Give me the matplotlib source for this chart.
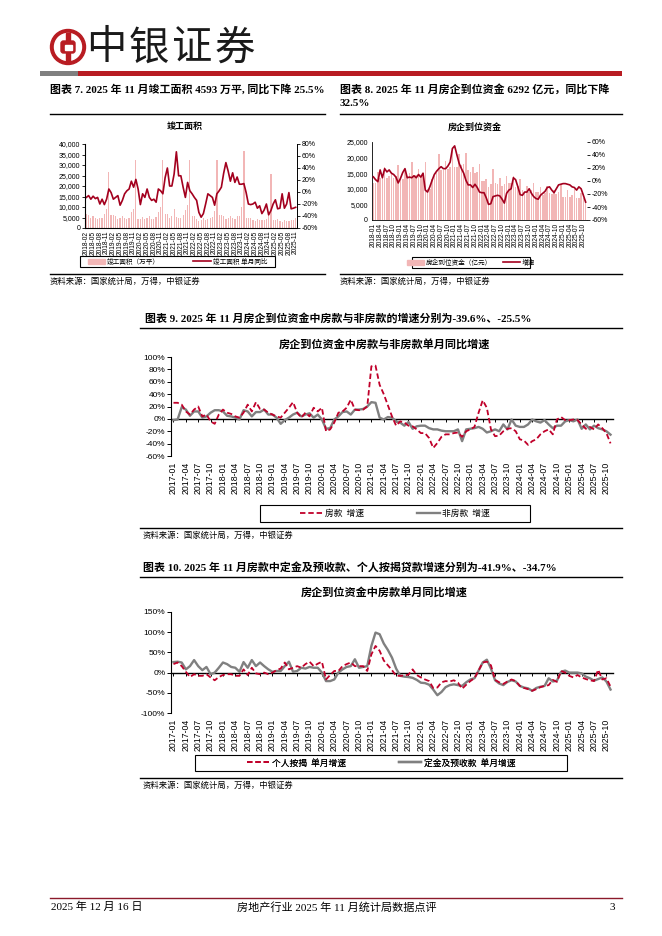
import numpy as np
import pandas as pd
import matplotlib
matplotlib.use('Agg')
import matplotlib.pyplot as plt
from matplotlib.patches import Circle, Rectangle, FancyBboxPatch, Patch
from matplotlib.lines import Line2D
from matplotlib.ticker import FuncFormatter

W, H = 662, 936
plt.rcParams['font.family'] = ['Liberation Sans', 'Noto Sans CJK SC']
SERIF = ['Liberation Serif', 'Noto Sans CJK SC']
CJK = ['Noto Sans CJK SC', 'DejaVu Sans']

# ---------------- data ----------------
# 图表7 竣工面积（万平）与单月同比，2018-02 ~ 2025-11
months7 = pd.date_range('2018-02', periods=94, freq='MS').strftime('%Y-%m')
area7 = [6500, 6000, 5000, 5800, 4800, 4300, 4800, 5000, 6500, 9000, 26700,
         6200, 6200, 5800, 4500, 4600, 5600, 4700, 4400, 5000, 7500, 9100, 32200,
         4300, 4300, 5200, 4200, 4800, 5500, 4500, 4500, 5200, 7800, 9800, 32200,
         6700, 6700, 5000, 5500, 9100, 5200, 5000, 4800, 6000, 8500, 11100, 32600,
         5800, 5800, 4500, 3500, 3800, 4800, 4000, 4200, 5000, 5200, 8300, 32200,
         6200, 6200, 5800, 4500, 4600, 5600, 4700, 4500, 5500, 5600, 10100, 36900,
         5000, 5000, 4600, 3700, 3500, 4400, 3800, 3600, 4000, 4200, 6000, 25600,
         3800, 3800, 4200, 3100, 3000, 4000, 3200, 3100, 3700, 3900, 4593]
yoy7 = [-9, -6, -12, -7, -11, -9, -20, -12, -21, -12, 5,
        -1, -12, -9, -6, -22, -14, -3, 2, 5, 18, 8, 21,
        5, -21, -3, -9, 5, -9, -14, -12, -17, 5, 2, -3,
        24, 40, 10, 10, 30, 67, 27, 27, 8, -9, 16, 2,
        -3, -9, -14, -34, -42, -36, -20, -3, -6, -9, -22, -3,
        2, 8, 31, 49, 35, 18, 32, 16, 25, 13, 13, 14,
        -1, -20, -21, -20, -17, -27, -23, -36, -30, -20, -38, -31,
        -20, -13, -28, -27, -3, -27, -20, -1, -28, -27, -25.5]

# 图表8 房企到位资金（亿元）与增速，2018-01 ~ 2025-11
months8 = pd.date_range('2018-01', periods=95, freq='MS').strftime('%Y-%m')
fund8 = [12000, 12000, 15500, 13500, 14000, 17000, 13500, 14000, 15500, 13500, 14000, 17500,
         13000, 13000, 16000, 14000, 15000, 18500, 14500, 14500, 16500, 14000, 15000, 18500,
         10000, 10000, 13000, 14000, 15000, 21000, 16000, 16000, 19000, 16500, 17000, 22500,
         17000, 17000, 21000, 17500, 18000, 21500, 16000, 15500, 17000, 15000, 15500, 18000,
         12500, 12500, 13000, 10500, 11500, 16500, 12000, 11500, 13500, 11000, 11500, 14000,
         12000, 12000, 14000, 10500, 11000, 13000, 9500, 9000, 11000, 9000, 9500, 12000,
         9000, 9000, 10500, 8000, 8500, 11000, 8500, 8200, 9500, 8300, 9000, 11500,
         7500, 7500, 9500, 7500, 8000, 10000, 7000, 7000, 8500, 7200, 6292]
yoy8 = [6.4, 2, -1, 17, 5, 19, 14, 17, 12, 10,
        6, -3, 4, 13, 19, 5, 6, 5, 8, 5,
        10, 6, 12, -14, -17, -9, 1, 10, 15, 19,
        22, 19, 19, 23, 29, 50, 54, 40, 27, 19,
        12, 1, -6, -6, -10, -5, -10, -17, -18, -18,
        -26, -36, -35, -24, -23, -22, -23, -28, -34, -19,
        -14, -12, 5, 2, -9, -21, -22, -17, -17, -12,
        -19, -24, -27, -28, -22, -19, -16, -10, -9, -14,
        -18, -12, -6, -5, -4, -4, -5, -6, -9, -10,
        -14, -9, -12, -22, -32.5]

# 图表9/10 月份 2017-01 ~ 2025-11
months9 = pd.date_range('2017-01', periods=107, freq='MS').strftime('%Y-%m')
house9 = [26, 26, 23, 12, 7, 15, 20, 4, 7, -4,
          -8, 7, 15, 10, 8, 4, 2, 10, 23, 12,
          27, 16, 15, 10, 7, 4, 2, 10, 18, 27,
          10, 2, 10, 4, 18, 12, 18, -20, -17, -6,
          10, 12, 18, 31, 15, 14, 15, 20, 85, 86,
          55, 40, 22, 4, -11, -4, -6, -11, -12, -17,
          -23, -23, -31, -47, -39, -29, -25, -25, -23, -22,
          -29, -20, -17, -13, 10, 30, 18, -17, -28, -27,
          -20, -16, -15, -20, -33, -35, -42, -36, -33, -25,
          -20, -17, -25, -1, 3, -2, -2, -1, -2, -9,
          -16, -13, -17, -9, -15, -23, -39.6]
nonhouse9 = [-2, -1, 19, 15, 5, 12, 12, 2, 4, 10,
             14, 14, 12, 5, 4, 2, -1, 14, 12, 4,
             11, 11, 15, 7, 7, 2, -8, -2, 2, 7,
             10, 4, 7, 9, 2, 7, -1, -16, -15, -1,
             4, 11, 12, 7, 15, 15, 16, 20, 27, 26,
             2, -1, 3, 2, -4, -6, -11, -5, -16, -12,
             -11, -11, -15, -17, -17, -19, -20, -20, -20, -17,
             -36, -17, -16, -15, -13, -16, -22, -20, -17, -20,
             -9, -17, -1, -11, -13, -13, -9, -1, -4, -6,
             -2, -9, -15, -11, -11, -4, -2, -4, -1, -16,
             -9, -17, -11, -15, -17, -20, -25.5]
mortgage10 = [21, 25, 16, 2, -11, -4, -8, -8, -4, -12,
              -19, -11, -6, -4, -4, -8, -8, 8, -6, 12,
              -2, -4, 0, -4, 0, 6, 10, 25, 8, 12,
              16, 12, 21, 27, 16, 22, 27, -17, -6, 4,
              4, 16, 21, 25, 16, 16, 16, 4, 45, 66,
              54, 30, 18, 6, -8, -8, -7, -5, 8, -6,
              -12, -17, -21, -38, -37, -24, -21, -22, -19, -25,
              -40, -30, -21, -14, 5, 25, 27, 18, -18, -24,
              -28, -22, -17, -21, -33, -38, -41, -45, -41, -36,
              -33, -31, -18, -23, 4, 0, -8, -12, -6, -12,
              -16, -19, -21, 7, -17, -14, -34.7]
deposit10 = [26, 27, 25, 8, 16, 31, 16, 6, 14, -4,
             0, 12, 25, 21, 14, 12, 2, 26, 12, 31,
             16, 25, 16, 8, 2, 4, 4, 16, 27, 2,
             4, 12, 10, 14, 12, 12, 0, -21, -21, -17,
             0, 8, 14, 16, 33, 12, 14, 16, 66, 99,
             95, 72, 56, 37, 10, -8, -10, -11, -13, -18,
             -25, -26, -30, -42, -56, -48, -36, -31, -29, -31,
             -33, -24, -17, -14, 5, 25, 32, 10, -19, -27,
             -31, -23, -19, -22, -33, -37, -39, -45, -38, -35,
             -33, -14, -22, -20, 2, 5, 0, 0, 0, -2,
             -10, -14, -20, -16, -12, -22, -41.9]

RED = '#C0002A'
DARKRED = '#A3001E'
PINK = '#F2B6B6'
GRAY = '#808080'
SRC = '资料来源：国家统计局，万得，中银证券'
TSIZE = 7.9


def box(x0, y0, x1, y1):
    return [x0 / W, 1 - y1 / H, (x1 - x0) / W, (y1 - y0) / H]


fig = plt.figure(figsize=(W / 100, H / 100), dpi=100)
bg = fig.add_axes([0, 0, 1, 1])
bg.set_xlim(0, W)
bg.set_ylim(H, 0)
bg.axis('off')

# header logo
cx, cy = 68, 47
bg.add_patch(Circle((cx, cy), 17.5, color='#B81C22'))
bg.add_patch(Circle((cx, cy), 13.5, color='white'))
bg.add_patch(Rectangle((cx - 2, cy - 14), 4, 28, color='#B81C22'))
bg.add_patch(FancyBboxPatch((cx - 7, cy - 6), 14, 12, boxstyle='round,pad=0,rounding_size=2.5', color='#B81C22'))
bg.add_patch(Rectangle((cx - 3.5, cy - 2.5), 7, 5, color='white'))
for i, ch in enumerate('中银证券'):
    bg.text(106 + i * 43, 48, ch, fontsize=29, family=CJK, ha='center', va='center', color='#1a1a1a')
bg.add_patch(Rectangle((40, 71), 38, 5, color='#808080', lw=0))
bg.add_patch(Rectangle((78, 71), 544, 5, color='#B81C22', lw=0))

# titles and rules
bg.text(50, 89, '图表 7. 2025 年 11 月竣工面积 4593 万平, 同比下降 25.5%', fontsize=TSIZE,
        family=SERIF, weight='bold', va='center')
bg.text(340, 89, '图表 8. 2025 年 11 月房企到位资金 6292 亿元，同比下降', fontsize=TSIZE,
        family=SERIF, weight='bold', va='center')
bg.text(340, 104, '32.5%', fontsize=TSIZE, family=SERIF, weight='bold', va='center')
bg.plot([50, 325], [113.5, 113.5], color='black', lw=1.0)
bg.plot([340, 622], [113.5, 113.5], color='black', lw=1.0)
bg.plot([50, 325], [273.5, 273.5], color='black', lw=1.0)
bg.plot([340, 622], [273.5, 273.5], color='black', lw=1.0)
bg.text(50, 281, SRC, fontsize=6, family=CJK, va='center', style='italic')
bg.text(340, 281, SRC, fontsize=6, family=CJK, va='center', style='italic')

bg.text(145, 318, '图表 9. 2025 年 11 月房企到位资金中房款与非房款的增速分别为-39.6%、-25.5%', fontsize=TSIZE,
        family=SERIF, weight='bold', va='center')
bg.plot([140, 622], [327.5, 327.5], color='black', lw=1.0)
bg.plot([140, 622], [527.5, 527.5], color='black', lw=1.0)
bg.text(143, 535, SRC, fontsize=6, family=CJK, va='center', style='italic')

bg.text(143, 568, '图表 10. 2025 年 11 月房款中定金及预收款、个人按揭贷款增速分别为-41.9%、-34.7%', fontsize=TSIZE,
        family=SERIF, weight='bold', va='center')
bg.plot([140, 622], [576.5, 576.5], color='black', lw=1.0)
bg.plot([140, 622], [777.5, 777.5], color='black', lw=1.0)
bg.text(143, 785, SRC, fontsize=6, family=CJK, va='center', style='italic')

# footer
bg.plot([50, 622], [898, 898], color='#8B1A2B', lw=1.0)
bg.text(51, 907, '2025 年 12 月 16 日', fontsize=8, family=SERIF, va='center')
bg.text(337, 907, '房地产行业 2025 年 11 月统计局数据点评', fontsize=8, family=SERIF, va='center', ha='center')
bg.text(615, 907, '3', fontsize=8, family=SERIF, va='center', ha='right')


def legend_box(x0, y0, x1, y1, handles, labels, size, colsp):
    bg.add_patch(Rectangle((x0, y0), x1 - x0, y1 - y0, fill=False, ec='black', lw=0.8))
    leg = bg.legend(handles, labels, loc='center',
                    bbox_to_anchor=((x0 + x1) / 2 / W, 1 - (y0 + y1) / 2 / H),
                    bbox_transform=fig.transFigure, ncol=2, frameon=False,
                    prop={'family': CJK, 'size': size}, columnspacing=colsp,
                    handlelength=2.6, borderpad=0, handletextpad=0.3)
    bg.add_artist(leg)


# ---------------- chart 7 ----------------
ax7 = fig.add_axes(box(85, 144, 297, 228))
x7 = np.arange(len(area7))
ax7.bar(x7, area7, width=0.55, color=PINK, lw=0)
ax7.set_xlim(-0.6, len(area7) - 0.4)
ax7.set_ylim(0, 40000)
ax7.set_yticks(range(0, 40001, 5000))
ax7.yaxis.set_major_formatter(FuncFormatter(lambda v, p: f'{int(v):,}'))
ax7.set_xticks(x7[::3])
ax7.set_xticklabels(months7[::3], rotation=90, fontsize=4.8)
ax7.tick_params(axis='y', labelsize=5, length=2, width=0.6, pad=1.5)
ax7.tick_params(axis='x', length=0, pad=2)
ax7.spines['top'].set_visible(False)
for s in ['left', 'bottom', 'right']:
    ax7.spines[s].set_linewidth(0.6)
ax7r = ax7.twinx()
ax7r.plot(x7, yoy7, color=DARKRED, lw=1.2)
ax7r.set_ylim(-60, 80)
ax7r.set_yticks(range(-60, 81, 20))
ax7r.yaxis.set_major_formatter(FuncFormatter(lambda v, p: f'{int(v)}%'))
ax7r.tick_params(axis='y', labelsize=5, length=2, width=0.6, pad=1.5)
ax7r.spines['top'].set_visible(False)
ax7r.spines['right'].set_linewidth(0.6)
bg.text(185, 127, '竣工面积', fontsize=6.5, family=CJK, weight='bold', ha='center', va='center')
legend_box(80, 256, 275, 267,
           [Patch(color=PINK), Line2D([], [], color=DARKRED, lw=1.2)],
           ['竣工面积（万平）', '竣工面积 单月同比'], 4.8, 5)

# ---------------- chart 8 ----------------
ax8 = fig.add_axes(box(372, 142, 587, 220))
x8 = np.arange(len(fund8))
ax8.bar(x8, fund8, width=0.7, color=PINK, lw=0)
ax8.set_xlim(-0.6, len(fund8) - 0.4)
ax8.set_ylim(0, 25000)
ax8.set_yticks(range(0, 25001, 5000))
ax8.yaxis.set_major_formatter(FuncFormatter(lambda v, p: f'{int(v):,}'))
ax8.set_xticks(x8[::3])
ax8.set_xticklabels(months8[::3], rotation=90, fontsize=4.8)
ax8.tick_params(axis='y', labelsize=5, length=0, pad=3)
ax8.tick_params(axis='x', length=0, pad=2)
ax8.spines['top'].set_visible(False)
ax8.spines['right'].set_visible(False)
for s in ['left', 'bottom']:
    ax8.spines[s].set_linewidth(0.6)
ax8r = ax8.twinx()
ax8r.plot(x8, yoy8, color=DARKRED, lw=1.2)
ax8r.set_ylim(-60, 60)
ax8r.set_yticks(range(-60, 61, 20))
ax8r.yaxis.set_major_formatter(FuncFormatter(lambda v, p: f'{int(v)}%'))
ax8r.tick_params(axis='y', labelsize=5, length=2, width=0.6, pad=1.5)
for s in ['top', 'right', 'left', 'bottom']:
    ax8r.spines[s].set_visible(False)
bg.text(475, 127, '房企到位资金', fontsize=6.5, family=CJK, weight='bold', ha='center', va='center')
legend_box(412, 257, 530, 268,
           [Patch(color=PINK), Line2D([], [], color=DARKRED, lw=1.2)],
           ['房企到位资金（亿元）', '增速'], 4.8, 1.5)


# ---------------- charts 9 & 10 ----------------
def growth_chart(rect, s_red, s_gray, ylo, yhi, step, title, ty):
    ax = fig.add_axes(box(*rect))
    xs = np.arange(len(s_red))
    ax.plot(xs, s_gray, color=GRAY, lw=1.7, zorder=2)
    ax.plot(xs, s_red, color=RED, lw=1.3, ls=(0, (3, 1.6)), zorder=3)
    ax.set_xlim(-0.6, len(s_red) - 0.4)
    ax.set_ylim(ylo, yhi)
    ax.set_yticks(range(ylo, yhi + 1, step))
    ax.yaxis.set_major_formatter(FuncFormatter(lambda v, p: f'{int(v)}%'))
    ax.tick_params(axis='y', labelsize=6, length=3, width=0.7, pad=1)
    ax.set_xticks(xs[::3])
    ax.set_xticklabels(months9[::3], rotation=90, fontsize=6.3)
    ax.tick_params(axis='x', length=0, pad=4)
    for s in ['top', 'right', 'bottom']:
        ax.spines[s].set_visible(False)
    ax.spines['left'].set_linewidth(0.8)
    zero = ax.secondary_xaxis((0 - ylo) / (yhi - ylo))
    zero.set_xticks(xs[::3])
    zero.tick_params(axis='x', length=2.5, width=0.7, labelbottom=False, direction='out')
    zero.spines['bottom'].set_linewidth(1.0)
    bg.text((rect[0] + rect[2]) / 2 - 8, ty, title, fontsize=8, family=CJK, weight='bold',
            ha='center', va='center')
    return ax


growth_chart((171, 357, 613, 456), house9, nonhouse9, -60, 100, 20,
             '房企到位资金中房款与非房款单月同比增速', 345)
legend_box(260, 505, 530, 522,
           [Line2D([], [], color=RED, lw=1.3, ls=(0, (3, 1.6))), Line2D([], [], color=GRAY, lw=1.7)],
           ['房款  增速', '非房款  增速'], 6.3, 6)

growth_chart((171, 612, 613, 713), mortgage10, deposit10, -100, 150, 50,
             '房企到位资金中房款单月同比增速', 593)
legend_box(195, 755, 567, 771,
           [Line2D([], [], color=RED, lw=1.3, ls=(0, (3, 1.6))), Line2D([], [], color=GRAY, lw=1.7)],
           ['个人按揭  单月增速', '定金及预收款  单月增速'], 6.3, 6)

fig.savefig('out.png', dpi=100)
